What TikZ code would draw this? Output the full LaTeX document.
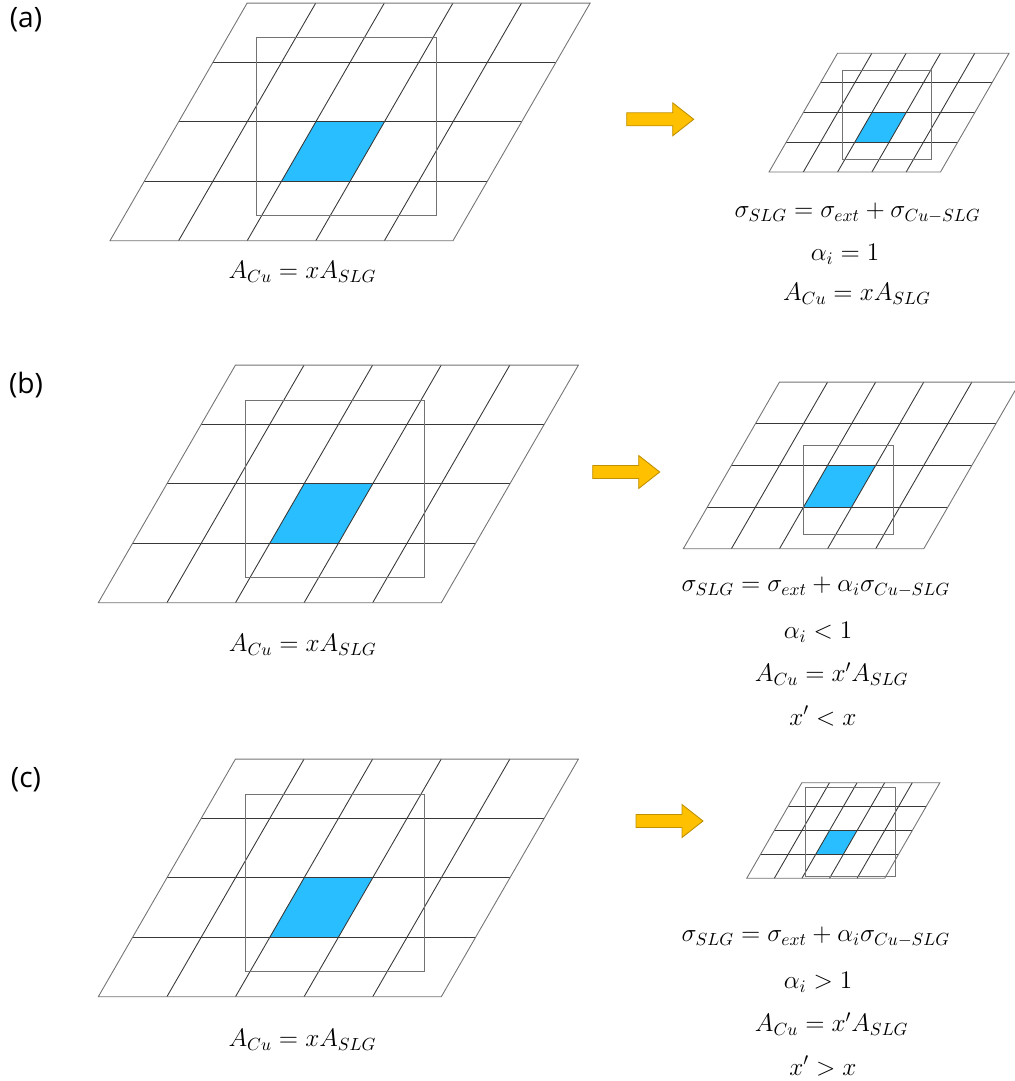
\documentclass[tikz,border=0pt]{standalone}
\usepackage{amsmath}
\usepackage{fontspec}
\setsansfont{Open Sans}
\usetikzlibrary{positioning}

\definecolor{cellblue}{RGB}{40,190,255}
\definecolor{arrowfill}{RGB}{255,192,0}
\definecolor{arrowline}{RGB}{191,144,0}

% 5x4 rhombic cells, lower left corner at (#1,#2), cell side #3 (px)
\newcommand{\rhombgrid}[3]{
  \begin{scope}[shift={(#1,#2)}]
    \begin{scope}[x={(#3*0.02cm,0cm)}, y={(#3*0.01cm,#3*0.017321cm)}]
      \fill[cellblue] (2,1) -- (3,1) -- (3,2) -- (2,2) -- cycle;
      \foreach \j in {1,2,3} \draw[gridline] (0,\j) -- (5,\j);
      \foreach \i in {1,...,4} \draw[gridline] (\i,0) -- (\i,4);
      \draw[gridedge] (0,0) -- (5,0) -- (5,4) -- (0,4) -- cycle;
    \end{scope}
  \end{scope}
}

% block arrow, tail at (#1,#2)
\newcommand{\fatarrow}[2]{
  \draw[blockarrow] (#1,#2) ++(0,-6.5) -- ++(46,0) -- ++(0,-10) -- ++(21,16.5)
    -- ++(-21,16.5) -- ++(0,-10) -- ++(-46,0) -- cycle;
}

\begin{document}
\begin{tikzpicture}[x=0.02cm, y=-0.02cm,
    gridline/.style={draw=black!78, line width=0.5pt},
    gridedge/.style={draw=black!55, line width=0.5pt},
    cellframe/.style={draw=black!55, line width=0.5pt},
    blockarrow/.style={fill=arrowfill, draw=arrowline, line width=0.5pt},
    eqn/.style={font=\Large, inner sep=0pt},
    panel/.style={font=\sffamily\fontsize{16}{19}\selectfont, inner sep=0pt}]
  \useasboundingbox (0,0) rectangle (1014,1081);

  % (a)
  \node[panel] (labA) at (26,20) {(a)};
  \rhombgrid{110}{240.7}{68.6}
  \draw[cellframe] (256.7,37.3) rectangle (436,215);
  \node[eqn] (areaA) at (302.5,272) {$A_{Cu} = xA_{SLG}$};
  \fatarrow{626.7}{119.3}
  \rhombgrid{769}{172}{34.3}
  \draw[cellframe] (842.3,70.7) rectangle (931.7,159);
  \node[eqn] (sigA) at (857.5,213) {$\sigma_{SLG} = \sigma_{ext} + \sigma_{Cu-SLG}$};
  \node[eqn] (alphaA) at (845,254) {$\alpha_i = 1$};
  \node[eqn] (areaA2) at (857,294) {$A_{Cu} = xA_{SLG}$};

  % (b)
  \node[panel] (labB) at (26,385) {(b)};
  \rhombgrid{98.3}{602.7}{68.6}
  \draw[cellframe] (245,400) rectangle (424.3,577.7);
  \node[eqn] (areaB) at (302.8,645) {$A_{Cu} = xA_{SLG}$};
  \fatarrow{592.7}{472}
  \rhombgrid{683.3}{548.7}{48.1}
  \draw[cellframe] (803.3,445.3) rectangle (893.3,534);
  \node[eqn] (sigB) at (815.8,587) {$\sigma_{SLG} = \sigma_{ext} + \alpha_i\sigma_{Cu-SLG}$};
  \node[eqn] (alphaB) at (818,632) {$\alpha_i < 1$};
  \node[eqn] (areaB2) at (831.7,674) {$A_{Cu} = x'A_{SLG}$};
  \node[eqn] (ratioB) at (823,716) {$x' < x$};

  % (c)
  \node[panel] (labC) at (26,780) {(c)};
  \rhombgrid{98.3}{996.7}{68.6}
  \draw[cellframe] (245,794) rectangle (424.3,971);
  \node[eqn] (areaC) at (302.5,1040) {$A_{Cu} = xA_{SLG}$};
  \fatarrow{636}{821}
  \rhombgrid{746.7}{878.3}{27.6}
  \draw[cellframe] (805,787.3) rectangle (895,876.7);
  \node[eqn] (sigC) at (815.8,937) {$\sigma_{SLG} = \sigma_{ext} + \alpha_i\sigma_{Cu-SLG}$};
  \node[eqn] (alphaC) at (818,982) {$\alpha_i > 1$};
  \node[eqn] (areaC2) at (831.7,1024) {$A_{Cu} = x'A_{SLG}$};
  \node[eqn] (ratioC) at (823,1066) {$x' > x$};
\end{tikzpicture}
\end{document}
